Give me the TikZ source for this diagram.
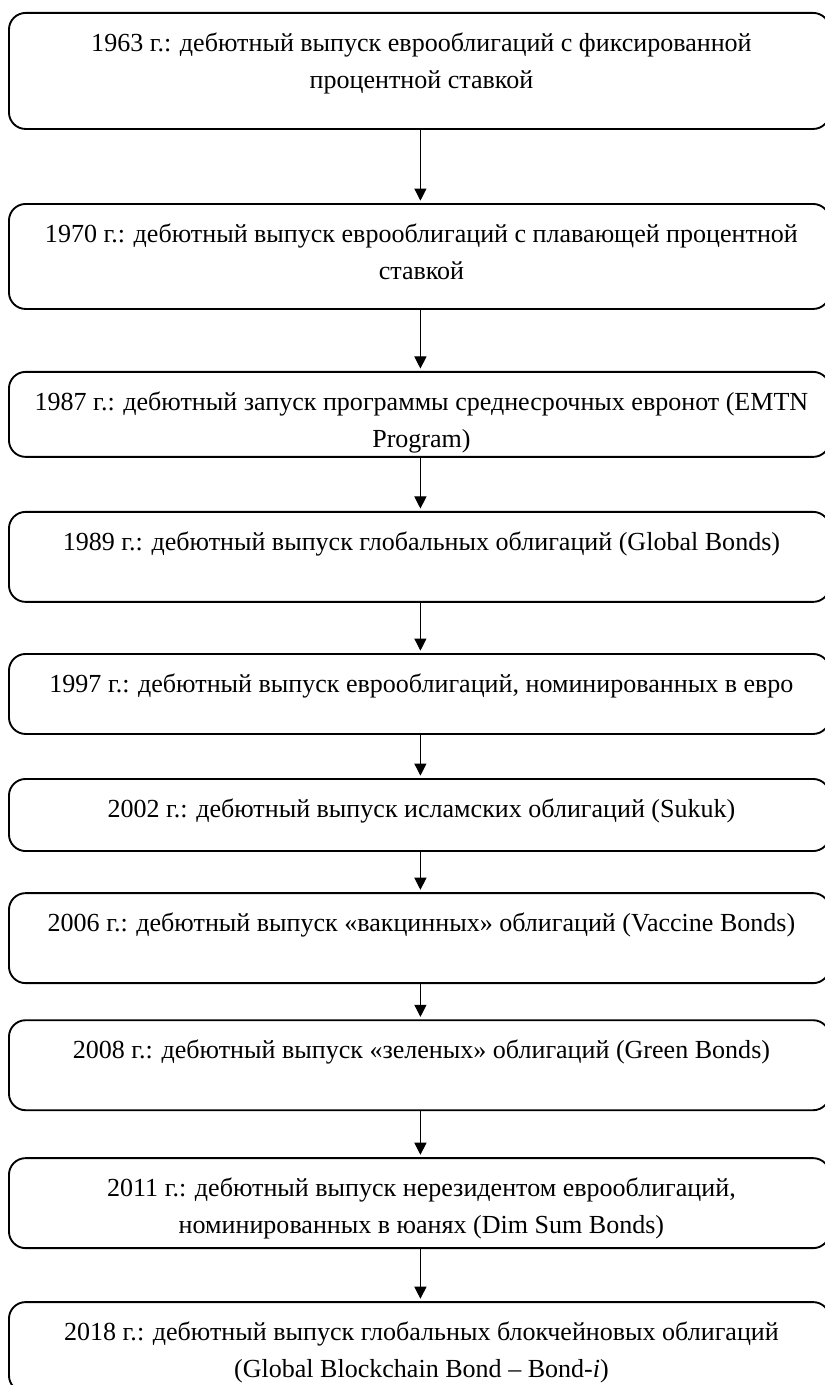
\documentclass[tikz,border=0pt]{standalone}
\usepackage{fontspec}
\setmainfont{Liberation Serif}
\usetikzlibrary{positioning,arrows.meta}

\begin{document}
\begin{tikzpicture}[
    stage/.style={rectangle, draw, line width=0.9pt, rounded corners=8pt, minimum width=394pt, inner sep=0pt, outer sep=0pt},
    stagetext/.style={align=center, inner sep=0pt, xshift=1pt, font=\fontsize{12.5pt}{17.8pt}\selectfont},
    arrow/.style={-{Triangle[length=5.8pt,width=5.8pt]}, line width=0.5pt, shorten >=1.6pt}
]

\useasboundingbox (0,0) rectangle (396pt,-664.8pt);

% the boxes, top to bottom
\node[stage, minimum height=55.7pt, anchor=north] (y1963) at (201.3pt,-6.2pt) {};
\node[stage, minimum height=50.4pt, below=36pt of y1963] (y1970) {};
\node[stage, minimum height=40.8pt, below=30.2pt of y1970] (y1987) {};
\node[stage, minimum height=43.2pt, below=26.4pt of y1987] (y1989) {};
\node[stage, minimum height=38.4pt, below=25pt of y1989] (y1997) {};
\node[stage, minimum height=34.6pt, below=21.6pt of y1997] (y2002) {};
\node[stage, minimum height=43.2pt, below=20.2pt of y2002] (y2006) {};
\node[stage, minimum height=43.2pt, below=17.8pt of y2006] (y2008) {};
\node[stage, minimum height=43.2pt, below=23pt of y2008] (y2011) {};
\node[stage, minimum height=43.2pt, below=25.9pt of y2011] (y2018) {};

% the texts, near the top of each box
\node[stagetext, below=9.3pt of y1963.north] (t1963) {1963 г.: дебютный выпуск еврооблигаций с фиксированной\\процентной ставкой};
\node[stagetext, below=9.3pt of y1970.north] (t1970) {1970 г.: дебютный выпуск еврооблигаций с плавающей процентной\\ставкой};
\node[stagetext, below=9.3pt of y1987.north] (t1987) {1987 г.: дебютный запуск программы среднесрочных евронот (EMTN\\Program)};
\node[stagetext, below=9.3pt of y1989.north] (t1989) {1989 г.: дебютный выпуск глобальных облигаций (Global Bonds)};
\node[stagetext, below=9.3pt of y1997.north] (t1997) {1997 г.: дебютный выпуск еврооблигаций, номинированных в евро};
\node[stagetext, below=9.3pt of y2002.north] (t2002) {2002 г.: дебютный выпуск исламских облигаций (Sukuk)};
\node[stagetext, below=9.3pt of y2006.north] (t2006) {2006 г.: дебютный выпуск «вакцинных» облигаций (Vaccine Bonds)};
\node[stagetext, below=9.3pt of y2008.north] (t2008) {2008 г.: дебютный выпуск «зеленых» облигаций (Green Bonds)};
\node[stagetext, below=9.3pt of y2011.north] (t2011) {2011 г.: дебютный выпуск нерезидентом еврооблигаций,\\номинированных в юанях (Dim Sum Bonds)};
\node[stagetext, below=9.3pt of y2018.north] (t2018) {2018 г.: дебютный выпуск глобальных блокчейновых облигаций\\(Global Blockchain Bond – Bond-\textit{i})};

\draw[arrow] ([xshift=0.5pt]y1963.south) -- ([xshift=0.5pt]y1970.north);
\draw[arrow] ([xshift=0.5pt]y1970.south) -- ([xshift=0.5pt]y1987.north);
\draw[arrow] ([xshift=0.5pt]y1987.south) -- ([xshift=0.5pt]y1989.north);
\draw[arrow] ([xshift=0.5pt]y1989.south) -- ([xshift=0.5pt]y1997.north);
\draw[arrow] ([xshift=0.5pt]y1997.south) -- ([xshift=0.5pt]y2002.north);
\draw[arrow] ([xshift=0.5pt]y2002.south) -- ([xshift=0.5pt]y2006.north);
\draw[arrow] ([xshift=0.5pt]y2006.south) -- ([xshift=0.5pt]y2008.north);
\draw[arrow] ([xshift=0.5pt]y2008.south) -- ([xshift=0.5pt]y2011.north);
\draw[arrow] ([xshift=0.5pt]y2011.south) -- ([xshift=0.5pt]y2018.north);

\end{tikzpicture}
\end{document}
